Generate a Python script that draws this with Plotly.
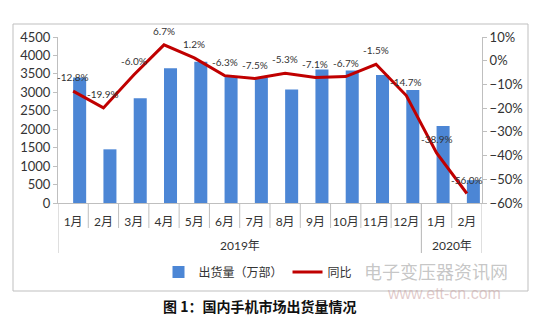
import plotly.graph_objects as go

years = ["2019年"] * 12 + ["2020年"] * 2
months = ["1月", "2月", "3月", "4月", "5月", "6月", "7月", "8月", "9月", "10月", "11月", "12月", "1月", "2月"]
shipments = [3400, 1455, 2840, 3650, 3830, 3420, 3400, 3080, 3620, 3590, 3470, 3060, 2085, 620]
yoy = [-12.8, -19.9, -6.0, 6.7, 1.2, -6.3, -7.5, -5.3, -7.1, -6.7, -1.5, -14.7, -38.9, -56.0]
yoy_labels = ["-12.8%", "-19.9%", "-6.0%", "6.7%", "1.2%", "-6.3%", "-7.5%", "-5.3%", "-7.1%", "-6.7%", "-1.5%", "-14.7%", "-38.9%", "-56.0%"]

FONT = "Lato, 'Noto Sans CJK SC', sans-serif"
CJK = "'Noto Sans CJK SC', sans-serif"
GRID = "#BFBFBF"

idx = list(range(len(months)))

fig = go.Figure()
fig.add_trace(go.Bar(
    x=idx, y=shipments, name="出货量（万部）",
    marker=dict(color="#4C86D5", line=dict(width=0)),
    width=0.43, offset=0.0, yaxis="y",
))
fig.add_trace(go.Scatter(
    x=idx, y=yoy, name="同比", mode="lines",
    line=dict(color="#C00000", width=3),
    yaxis="y2", cliponaxis=False,
))

L, R, T, B = 58, 482, 37, 203
W, H = R - L, B - T
def px(x):
    return (x - L) / W
def py(y):
    return (B - y) / H

annotations = []
for i, (v, lab) in enumerate(zip(yoy, yoy_labels)):
    annotations.append(dict(x=i, y=v, xref="x", yref="y2", text=lab, showarrow=False,
                            yshift=14, font=dict(size=10, color="#333333", family=FONT)))

# year group labels
groups = []
for i, yv in enumerate(years):
    if not groups or groups[-1][0] != yv:
        groups.append([yv, i, i])
    else:
        groups[-1][2] = i
shapes = []
for g, a, b in groups:
    annotations.append(dict(x=(a + b) / 2, y=py(245), xref="x", yref="paper", text=g,
                            showarrow=False, yanchor="middle",
                            font=dict(size=12, color="#333333", family=FONT)))
    for xb in (a - 0.5, b + 0.5):
        shapes.append(dict(type="line", xref="x", yref="paper", x0=xb, x1=xb,
                           y0=0, y1=py(253), line=dict(color=GRID, width=1)))
for i in range(1, len(months)):
    shapes.append(dict(type="line", xref="x", yref="paper", x0=i - 0.5, x1=i - 0.5,
                       y0=0, y1=py(228), line=dict(color=GRID, width=1)))

shapes.append(dict(type="rect", xref="paper", yref="paper",
                   x0=px(13), x1=px(528), y0=py(291), y1=py(24),
                   line=dict(color=GRID, width=1), layer="below"))

annotations += [
    dict(text="<b>图 1：国内手机市场出货量情况</b>", xref="paper", yref="paper",
         x=px(259), y=py(306), showarrow=False, xanchor="center", yanchor="middle",
         font=dict(size=14, color="#111111", family=CJK)),
    dict(text="电子变压器资讯网", xref="paper", yref="paper",
         x=px(436), y=py(271), showarrow=False, xanchor="center", yanchor="middle",
         font=dict(size=18, color="rgba(150,150,150,0.55)", family=CJK)),
    dict(text="www.ett-cn.com", xref="paper", yref="paper",
         x=px(444), y=py(293), showarrow=False, xanchor="center", yanchor="middle",
         font=dict(size=16, color="rgba(200,160,160,0.55)", family="'Liberation Sans', sans-serif")),
]

fig.update_layout(
    width=550, height=324,
    margin=dict(l=L, r=550 - R, t=T, b=324 - B),
    paper_bgcolor="white", plot_bgcolor="white",
    font=dict(family=FONT, color="#333333", size=12),
    showlegend=True,
    legend=dict(orientation="h", x=px(258), y=py(272), xanchor="center", yanchor="middle",
                font=dict(size=12, family=CJK, color="#333333"),
                bgcolor="rgba(0,0,0,0)"),
    xaxis=dict(range=[-0.5, len(months) - 0.5], tickvals=idx, ticktext=months,
               showline=True, linecolor=GRID, linewidth=1, ticks="", showgrid=False,
               zeroline=False, ticklabelstandoff=8,
               tickfont=dict(size=12, family=FONT, color="#333333")),
    yaxis=dict(range=[0, 4500], dtick=500, showgrid=False, zeroline=False,
               showline=True, linecolor=GRID, ticks="outside", ticklen=4,
               tickcolor=GRID, tickfont=dict(size=13, family=FONT, color="#333333")),
    yaxis2=dict(range=[-60, 10], dtick=10, ticksuffix="%", overlaying="y", side="right",
                showgrid=False, zeroline=False, showline=True, linecolor=GRID,
                ticks="outside", ticklen=4, tickcolor=GRID,
                tickfont=dict(size=13, family=FONT, color="#333333")),
    shapes=shapes,
    annotations=annotations,
)

fig.write_html("out.html")
